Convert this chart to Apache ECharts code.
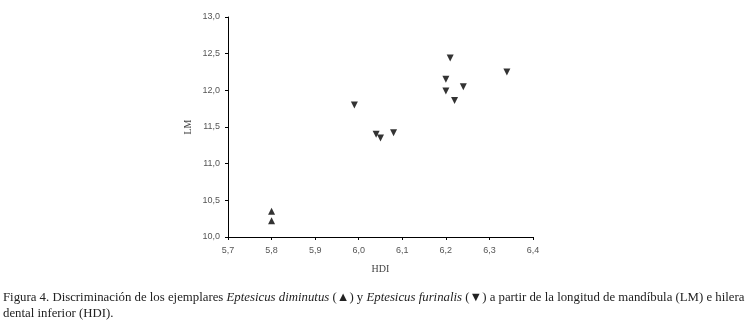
<!DOCTYPE html>
<html>
<head>
<meta charset="utf-8">
<script src="https://cdn.jsdelivr.net/npm/echarts@6/dist/echarts.min.js"></script>
<style>
  html, body { margin: 0; padding: 0; background: #fff; }
  #chart { width: 750px; height: 325px; }
</style>
</head>
<body>
<div id="chart"></div>
<script>
// E. diminutus (▲)
const diminutusHDI = [5.80, 5.80]
const diminutusLM = [10.35, 10.22]
// E. furinalis (▼)
const furinalisHDI = [5.99, 6.04, 6.05, 6.08, 6.20, 6.20, 6.21, 6.22, 6.24, 6.34]
const furinalisLM = [11.80, 11.40, 11.35, 11.42, 12.15, 11.99, 12.44, 11.86, 12.05, 12.25]

const xTicks = ['5,7', '5,8', '5,9', '6,0', '6,1', '6,2', '6,3', '6,4']

const chart = echarts.init(document.getElementById('chart'))

const labelFont = { color: '#555', fontSize: 9, fontFamily: 'Liberation Sans, Arial, sans-serif' }
const captionFont = 'Liberation Serif, Times New Roman, serif'

chart.setOption({
  backgroundColor: '#fff',
  animation: false,
  grid: { left: 228, right: 217, top: 17, bottom: 88 },
  xAxis: {
    type: 'value',
    min: 5.7, max: 6.4, interval: 0.1,
    name: 'HDI',
    nameLocation: 'middle',
    nameGap: 27,
    nameTextStyle: { fontFamily: captionFont, fontSize: 10, color: '#444' },
    axisLine: { lineStyle: { color: '#000', width: 1 } },
    axisTick: { length: 3, lineStyle: { color: '#000' } },
    splitLine: { show: false },
    axisLabel: Object.assign({ margin: 9, formatter: v => xTicks[Math.round((v - 5.7) * 10)] }, labelFont)
  },
  yAxis: {
    type: 'value',
    min: 10, max: 13, interval: 0.5,
    name: 'LM',
    nameLocation: 'middle',
    nameGap: 35,
    nameRotate: 90,
    nameTextStyle: { fontFamily: captionFont, fontSize: 10, color: '#444' },
    axisLine: { show: true, lineStyle: { color: '#000', width: 1 } },
    axisTick: { show: true, length: 3, lineStyle: { color: '#000' } },
    splitLine: { show: false },
    axisLabel: Object.assign({ margin: 8, formatter: v => v.toFixed(1).replace('.', ',') }, labelFont)
  },
  series: [
    {
      type: 'scatter',
      symbol: 'triangle',
      symbolSize: 7,
      itemStyle: { color: '#000' },
      data: diminutusHDI.map((x, i) => [x, diminutusLM[i]])
    },
    {
      type: 'scatter',
      symbol: 'triangle',
      symbolRotate: 180,
      symbolSize: 7,
      itemStyle: { color: '#000' },
      data: furinalisHDI.map((x, i) => [x, furinalisLM[i]])
    }
  ],
  title: {
    left: 3,
    top: 290,
    padding: 0,
    text: 'Figura 4. Discriminación de los ejemplares {i|Eptesicus diminutus} (▲) y {i|Eptesicus furinalis} (▼) a partir de la longitud de mandíbula (LM) e hilera\ndental inferior (HDI).',
    textStyle: {
      fontFamily: captionFont,
      fontSize: 12.8,
      fontWeight: 'normal',
      color: '#222',
      lineHeight: 16,
      rich: {
        i: { fontFamily: captionFont, fontSize: 12.8, fontStyle: 'italic', color: '#222', lineHeight: 16 }
      }
    }
  }
})
</script>
</body>
</html>
